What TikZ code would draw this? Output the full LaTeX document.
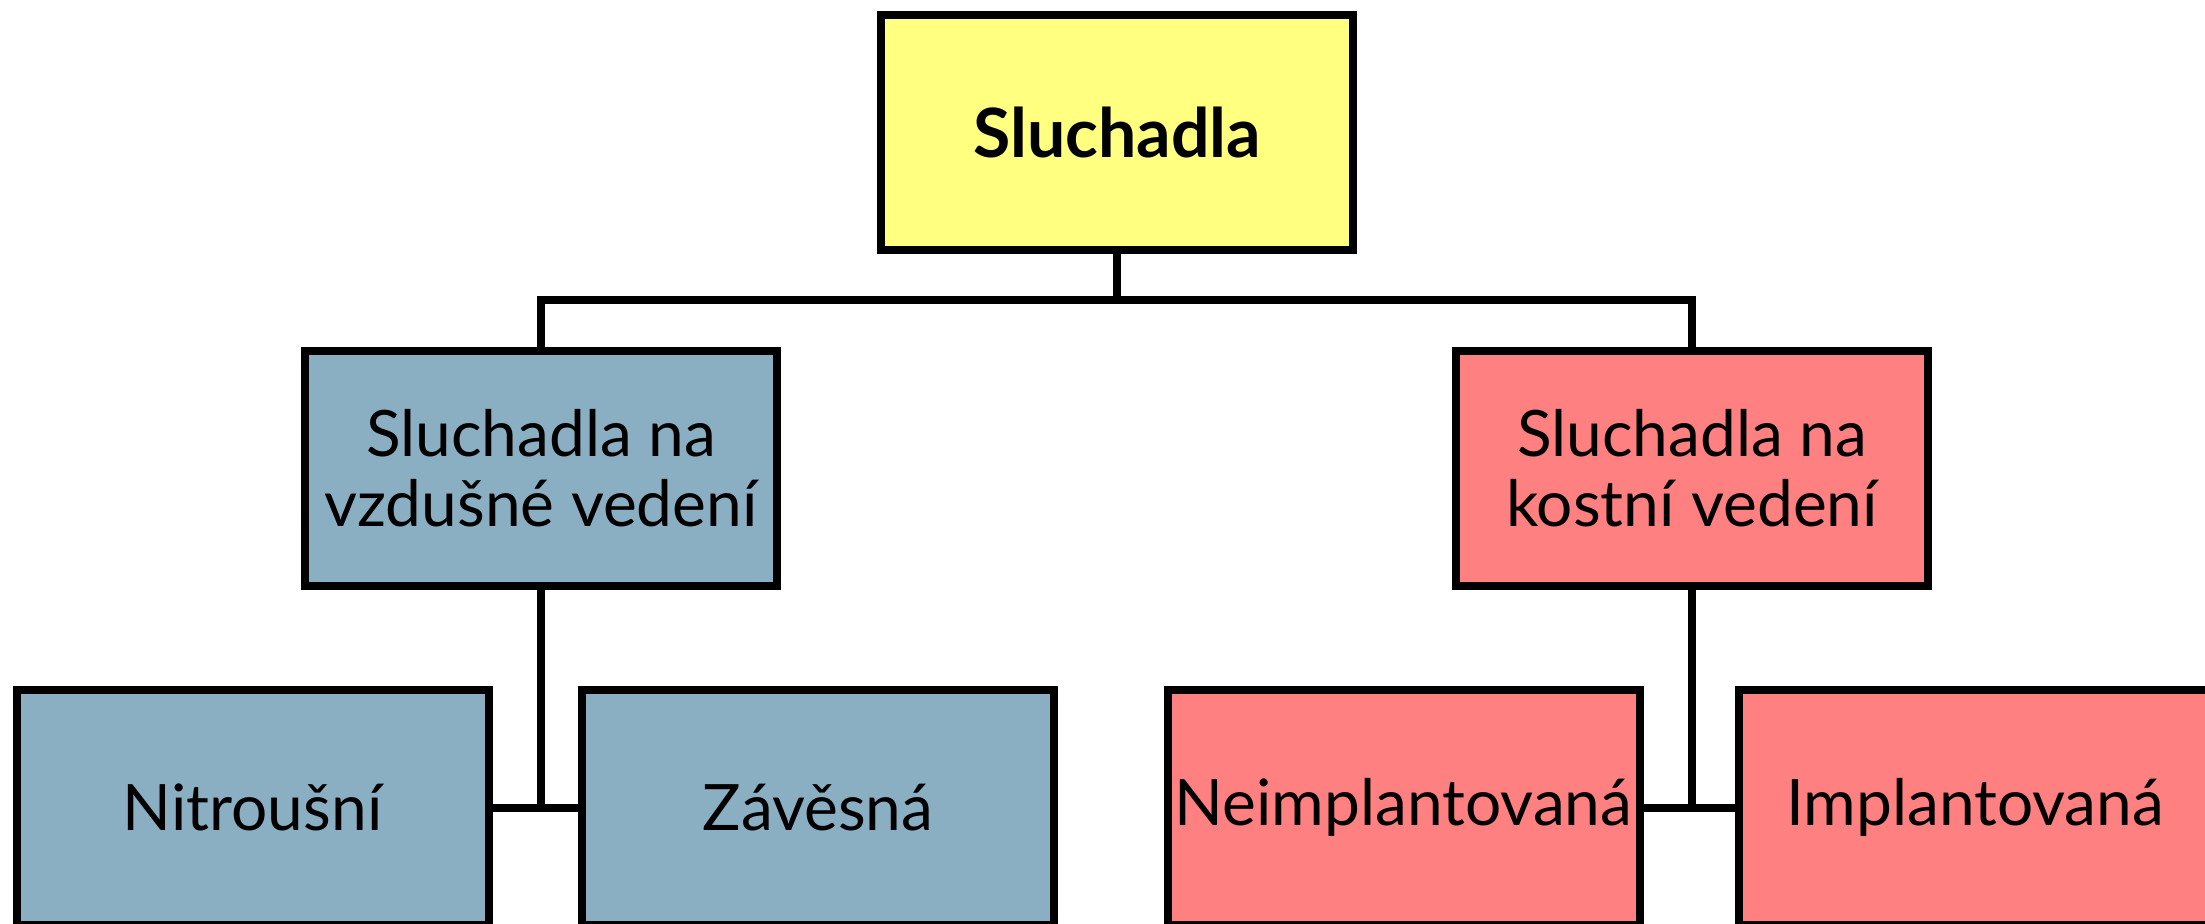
\documentclass[tikz,border=0pt]{standalone}
\usepackage{fontspec}
\setmainfont{Lato}
\definecolor{cyellow}{HTML}{FFFF80}
\definecolor{cblue}{HTML}{8BAFC2}
\definecolor{cred}{HTML}{FF8080}
\begin{document}
\begin{tikzpicture}[x=0.5pt,y=-0.5pt,
  box/.style={draw=black,line width=4pt,rectangle,inner sep=0pt,
    minimum width=236pt,minimum height=117.5pt,align=center,
    font=\fontsize{32}{35}\selectfont,text=black},
  conn/.style={draw=black,line width=4pt}]
\useasboundingbox (0,0) rectangle (2205,924);
\clip (0,0) rectangle (2205,924);
\fill[white] (0,0) rectangle (2205,924);
\node[box,fill=cyellow,font=\fontsize{34}{36}\selectfont\bfseries] (top) at (1117,132.5) {Sluchadla};
\node[box,fill=cblue] (ml) at (541,468.5) {Sluchadla na\\vzdušné vedení};
\node[box,fill=cred] (mr) at (1692,468.5) {Sluchadla na\\kostní vedení};
\node[box,fill=cblue] (b1) at (252.5,807.5) {Nitroušní};
\node[box,fill=cblue] (b2) at (818,807.5) {Závěsná};
\node[box,fill=cred] (b3) at (1403.5,807.5) {Neimplantovaná};
\node[box,fill=cred] (b4) at (1975,807.5) {Implantovaná};
\coordinate (bus) at (0,300);
\draw[conn] (top.south) -- (top.south |- bus);
\draw[conn] (ml.north) -- (ml.north |- bus) -- (mr.north |- bus) -- (mr.north);
\draw[conn] (ml.south) -- (ml.south |- b1.east);
\draw[conn] (b1.east) -- (b2.west);
\draw[conn] (mr.south) -- (mr.south |- b3.east);
\draw[conn] (b3.east) -- (b4.west);
\end{tikzpicture}
\end{document}
